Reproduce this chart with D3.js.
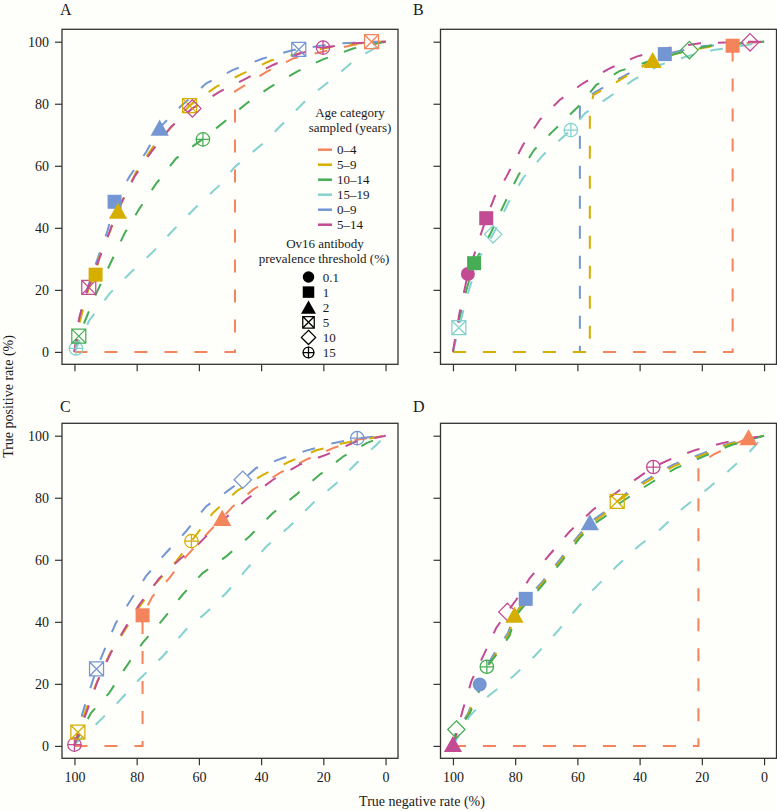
<!DOCTYPE html>
<html><head><meta charset="utf-8">
<script src="https://cdn.jsdelivr.net/npm/d3@7"></script>
<style>
html,body{margin:0;padding:0;background:#fefefa;}
svg{display:block;}
</style>
</head><body>
<svg id="chart" width="777" height="811"></svg>
<script>
// ---------- data ----------
const seriesNames = ["0–4","5–9","10–14","15–19","0–9","5–14"];
const seriesColors = ["#F4845B","#D6AE00","#47AD55","#84D2CF","#7496D2","#C24B94"];
const thresholdLabels = ["0.1","1","2","5","10","15"];
const thresholdShapes = ["circle","square","triangle","boxx","diamond","circleplus"];
const xTicks = [100,80,60,40,20,0];
const yTicks = [0,20,40,60,80,100];
const panelLetters = ["A","B","C","D"];

// curves: [true negative rate, true positive rate], one array per age category (seriesNames order)
const curvesA = [
  [[100,0],[48.4,0],[48.4,84],[38.3,90.3],[29.7,94.6],[18,97.3],[10,99],[4.5,100],[0,100]],
  [[100,0],[98.2,10],[95.6,20],[93.2,25],[92,30.6],[88.2,39.8],[86,45.5],[80.2,58],[74.8,66],[68.3,73.1],[63,79.4],[54.4,85.5],[45.8,89.8],[36.7,94],[25.4,96.8],[16.8,98.4],[8,99.5],[0,100]],
  [[100,0],[98.6,5.1],[93,18.8],[88.7,28],[83.9,38.2],[79.1,46.2],[73.7,54.3],[67.3,62.4],[58.9,68.5],[51.2,74.7],[44.7,80.1],[37.2,85.3],[28.6,90.3],[20.1,94.3],[10.4,97.8],[0,100]],
  [[100,0],[99.5,1.1],[95.2,10.2],[88.7,18.8],[81.2,26.3],[75.3,31.7],[68.3,39.2],[60.8,46.8],[53.3,53.8],[48.4,59.7],[39.4,67.2],[31.9,74.7],[24.4,82.3],[16.8,88.2],[9.3,94.6],[1.8,98.9],[0,100]],
  [[100,0],[98.6,10],[96,20],[92.7,29.6],[89.3,39.2],[87.1,48.4],[82.3,56.5],[76.9,64.5],[72.6,72.3],[66,79],[57.6,86.6],[49,90.9],[39.4,94.6],[29.7,97.3],[16.8,99.3],[8,99.8],[0,100]],
  [[100,0],[98.4,11.3],[95.7,20.4],[92,30.1],[88.7,38.7],[86.5,45],[80.7,56.5],[75.3,64.5],[68.9,72.6],[62.1,78.5],[53.3,83.9],[44.7,88.2],[36.2,92.5],[27.6,96.2],[20.1,98.1],[10.4,99.5],[0,100]]
];
const curvesB = [
  [[100,0],[10.1,0],[10.1,98.7],[5,99.6],[0,100]],
  [[100,0],[56,0],[56,77],[54.9,82.8],[46.4,87.6],[35.8,94.1],[25,97],[15,98.8],[0,100]],
  [[100,0],[98,10],[96.5,17],[93.2,28.6],[88,38],[83.4,47.9],[79,56.9],[74,65],[68,71],[59.2,79.6],[54,86],[46.5,90.5],[36,94],[24,97.3],[16.3,98.9],[0,100]],
  [[100,0],[98.1,7.8],[95.2,18.9],[91.4,30.7],[87.1,37.9],[82.3,47.9],[77.5,56],[71,63.5],[62.1,71.5],[57.6,76.9],[49.6,82.3],[42.1,87.6],[33.5,92.5],[24,95.5],[16.3,97.3],[5.6,98.9],[0,100]],
  [[100,0],[59.2,0],[59.2,79.6],[54.9,83.4],[46.4,88.2],[31.9,96],[20,98.5],[0,100]],
  [[100,0],[97.9,12.5],[95.2,25.1],[92,35],[89.3,43.1],[86.6,50],[82.8,56.5],[77.5,66.7],[72.1,74.8],[65.7,81.2],[58.2,86.6],[49.6,91.4],[41,95.2],[31.3,97.9],[20.6,99.5],[4.5,100],[0,100]]
];
const curvesC = [
  [[100,0],[78.1,0],[78.1,42.1],[74.9,48.2],[69.5,54.1],[64.1,61.1],[56.6,69.2],[52.5,73.5],[49.1,77.2],[42.6,82.6],[34,88],[25,92.5],[16.9,96],[9.3,98.7],[0,100]],
  [[100,0],[98.9,4.4],[96.3,11.7],[93.1,19.8],[88.8,29.4],[84,37],[79.7,43.9],[73.8,52.5],[67.3,59.5],[62.4,66],[55.5,75.1],[47.9,82.1],[39.4,87.4],[30.8,91.7],[22.2,95.3],[13.6,97.6],[0,100]],
  [[100,0],[99.4,1.5],[94.7,10.6],[88.8,17.1],[84,24.6],[78.1,33.2],[71.6,40.7],[65.2,48.8],[58.8,55.7],[51.2,61.1],[43.7,67.6],[36.2,75.1],[28.7,81],[21.2,87.4],[13.6,93.3],[6.1,97.6],[0,100]],
  [[100,0],[99.4,1],[93.1,6.9],[86.7,13.3],[79.2,21.4],[71.6,28.9],[64.1,37.5],[57.7,42.9],[51.2,49.3],[44.8,56.8],[38.3,64.3],[30.8,70.8],[23.3,78.3],[15.8,84.7],[9.3,91.2],[2.9,97.1],[0,100]],
  [[100,0],[99.6,1],[97.4,10.6],[94.7,19.2],[92.9,24.8],[89.9,32.1],[86.7,39.6],[81.8,47.2],[77,54.7],[70.6,62.2],[64.1,69.2],[57.7,77.2],[50.2,82.6],[45.9,85.8],[41.6,89.6],[33,92.8],[24.4,95.5],[16.9,97.6],[9.1,99.2],[0,100]],
  [[100,0],[100,0.4],[95.8,11.7],[92.6,20.8],[88.3,30],[84,37.5],[79.2,45.5],[72.7,54.1],[66.3,60],[59.8,65.4],[54.5,70.8],[44.8,79.4],[36.2,85.8],[27.6,90.7],[19,93.9],[9.3,98.2],[0,100]]
];
const curvesD = [
  [[100,0],[21.1,0],[21.1,90.7],[16.3,93.9],[10,97],[5,99.4],[0,100]],
  [[100,0],[98.7,4],[95,10.2],[91.2,19.5],[89,25],[86.3,29.6],[82,36],[80.2,42.3],[76.3,47],[71.4,52.2],[65.5,59.6],[59.6,67.2],[55.8,71.6],[51.5,74.6],[47.2,78.8],[44,81],[37.5,85.3],[29,90.2],[19.3,94],[10.8,97.4],[0,100]],
  [[100,0],[98.9,5.3],[94.8,10],[91,19],[89.1,25.5],[86.2,29.2],[81.8,35.5],[79.9,41.8],[76,46.5],[71.2,51.8],[65.3,59.2],[59.4,66.8],[55.6,71],[51.3,73.8],[47,77.8],[43.8,80],[36.7,84.6],[28.6,89.4],[19,93.5],[10.5,97],[0,100]],
  [[100,0],[98.9,2],[94.6,9.6],[88.7,16],[80.7,22.4],[73.8,28.9],[67.8,35.3],[61.4,42.9],[54.9,50.4],[47.4,57.9],[40.5,64.3],[33.5,69.7],[26,76.7],[18.5,82.6],[11,89],[4.5,95],[0,100]],
  [[100,0],[98.9,4.2],[95.1,10.6],[91.4,19.8],[89.3,25.5],[86.6,30],[82.3,36.4],[80.2,42.3],[76.6,47.4],[71.6,52.5],[65.7,60],[59.8,67.6],[56,72.1],[51.7,75.1],[47.2,78.8],[44.2,81.5],[37.8,85.8],[29.2,90.7],[19.5,94.4],[11,97.6],[0,100]],
  [[100,0],[96.8,11.7],[94.1,20.8],[89.8,30],[86.1,38],[82.5,43.2],[79.6,47.2],[75.3,54.1],[68.9,61.7],[62.4,69.2],[54.9,76.2],[47,82],[39.9,86.9],[35.6,89.9],[29.2,92.8],[21.7,95.5],[11,98.2],[0,100]]
];

// markers: [series index, threshold index, true negative rate, true positive rate]
const markersA = [[3,5,99.5,1.1],[2,3,98.6,5.1],[5,3,95.4,20.8],[1,1,93.2,24.9],[4,1,87.1,48.4],[1,2,86,45.5],[4,2,72.6,72.3],[1,3,63,79.4],[5,4,62.1,78.5],[2,5,58.7,68.5],[4,3,27.9,97.5],[5,5,20.1,98.1],[0,3,4.5,100]];
const markersB = [[3,3,98.1,7.8],[5,0,95.2,25.1],[2,1,93.2,28.6],[5,1,89.3,43.1],[3,4,87.1,37.9],[3,5,62.1,71.5],[1,2,35.8,94.1],[4,1,31.9,96],[2,4,24,97.3],[0,1,10.1,98.7],[5,4,4.5,99.8]];
const markersC = [[5,5,100,0.4],[1,3,98.9,4.4],[4,3,92.9,24.8],[0,1,78.1,42.1],[1,5,62.4,66],[0,2,52.5,73.5],[4,4,45.9,85.8],[4,5,9.1,99.2]];
const markersD = [[5,2,100,0.6],[2,4,98.9,5.3],[4,0,91.4,19.8],[2,5,89.1,25.5],[5,4,82.5,43.2],[1,2,80.2,42.3],[4,1,76.6,47.4],[4,2,56,72.1],[1,3,47.2,78.8],[5,5,35.6,89.9],[0,2,5,99.5]];

const allCurves = [curvesA, curvesB, curvesC, curvesD];
const allMarkers = [markersA, markersB, markersC, markersD];

// ---------- layout ----------
const FONT = "'Liberation Serif', 'Times New Roman', serif";
const TEXTC = "#1a1a1a";
const svg = d3.select("#chart");
const W = 336, H = 335;
const layout = [
  {left:62, top:29.3, xLab:false, yLab:true, lx:60, ly:15},
  {left:440.5, top:29.3, xLab:false, yLab:false, lx:413, ly:15},
  {left:62, top:423.3, xLab:true, yLab:true, lx:60, ly:412},
  {left:440.5, top:423.3, xLab:true, yLab:false, lx:413, ly:412}
];
const drawOrder = [0,4,1,2,3,5];
const axisColor = "#333";

function addText(parent, x, y, str, size, anchor){
  return parent.append("text").attr("x",x).attr("y",y)
    .style("font-family",FONT).style("font-size",size+"px").style("fill",TEXTC)
    .attr("text-anchor",anchor||"start").text(str);
}

function drawSymbol(g, shape, cx, cy, s, color){
  const h = s/2, sw = 1.25;
  if(shape==="circle"){
    g.append("circle").attr("cx",cx).attr("cy",cy).attr("r",h).attr("fill",color);
  } else if(shape==="square"){
    g.append("rect").attr("x",cx-h).attr("y",cy-h).attr("width",s).attr("height",s).attr("fill",color);
  } else if(shape==="triangle"){
    const w = s*1.3, t = s*1.15;
    g.append("path").attr("d",`M${cx},${cy-t/2}L${cx+w/2},${cy+t/2}L${cx-w/2},${cy+t/2}Z`).attr("fill",color);
  } else if(shape==="boxx"){
    g.append("path").attr("d",`M${cx-h},${cy-h}h${s}v${s}h${-s}ZM${cx-h},${cy-h}L${cx+h},${cy+h}M${cx+h},${cy-h}L${cx-h},${cy+h}`)
      .attr("fill","none").attr("stroke",color).attr("stroke-width",sw);
  } else if(shape==="diamond"){
    const d = s*0.62;
    g.append("path").attr("d",`M${cx},${cy-d}L${cx+d},${cy}L${cx},${cy+d}L${cx-d},${cy}Z`)
      .attr("fill","none").attr("stroke",color).attr("stroke-width",sw);
  } else {
    g.append("circle").attr("cx",cx).attr("cy",cy).attr("r",h-0.3).attr("fill","none").attr("stroke",color).attr("stroke-width",sw);
    g.append("path").attr("d",`M${cx-h},${cy}H${cx+h}M${cx},${cy-h}V${cy+h}`).attr("fill","none").attr("stroke",color).attr("stroke-width",sw);
  }
}

layout.forEach((p, i) => {
  const x = d3.scaleLinear().domain([104,-4]).range([p.left, p.left+W]);
  const y = d3.scaleLinear().domain([-4,104]).range([p.top+H, p.top]);
  const g = svg.append("g");

  // axes
  const xa = g.append("g").attr("transform",`translate(0,${p.top+H})`)
    .call(d3.axisBottom(x).tickValues(xTicks).tickSize(7).tickPadding(7)
      .tickFormat(p.xLab ? d3.format("d") : () => ""));
  const ya = g.append("g").attr("transform",`translate(${p.left},0)`)
    .call(d3.axisLeft(y).tickValues(yTicks).tickSize(7).tickPadding(6)
      .tickFormat(p.yLab ? d3.format("d") : () => ""));
  [xa, ya].forEach(a => {
    a.select(".domain").remove();
    a.selectAll("line").attr("stroke",axisColor).attr("stroke-width",1.2);
    a.selectAll("text").style("font-family",FONT).style("font-size","14px").style("fill",TEXTC);
  });

  // curves
  const line = d3.line().x(d => x(d[0])).y(d => y(d[1]));
  const curves = allCurves[i];
  drawOrder.forEach(si => {
    g.append("path").datum(curves[si]).attr("d",line)
      .attr("fill","none").attr("stroke",seriesColors[si]).attr("stroke-width",2)
      .attr("stroke-dasharray","13,17");
  });

  // markers
  allMarkers[i].forEach(m => {
    drawSymbol(g, thresholdShapes[m[1]], x(m[2]), y(m[3]), 14, seriesColors[m[0]]);
  });

  // box
  g.append("rect").attr("x",p.left).attr("y",p.top).attr("width",W).attr("height",H)
    .attr("fill","none").attr("stroke",axisColor).attr("stroke-width",1.3);

  // panel letter
  addText(svg, p.lx, p.ly, panelLetters[i], 16);
});

// ---------- legend (panel A) ----------
const lg = svg.append("g");
addText(lg, 350, 117, "Age category", 13, "middle");
addText(lg, 350, 132, "sampled (years)", 13, "middle");
seriesNames.forEach((n, k) => {
  const cy = 149.7 + k*15;
  lg.append("line").attr("x1",318).attr("x2",332).attr("y1",cy).attr("y2",cy)
    .attr("stroke",seriesColors[k]).attr("stroke-width",2.5);
  addText(lg, 337, cy+4.5, n, 13);
});
addText(lg, 325, 248, "Ov16 antibody", 13, "middle");
addText(lg, 324, 263, "prevalence threshold (%)", 13, "middle");
thresholdLabels.forEach((t, k) => {
  const cy = 277 + k*15.1;
  drawSymbol(lg, thresholdShapes[k], 308.5, cy, 11.5, "#000");
  addText(lg, 322.7, cy+4.5, t, 13);
});

// ---------- axis titles ----------
addText(svg, 0, 0, "True positive rate (%)", 14, "middle").attr("transform","translate(13,396.5) rotate(-90)");
addText(svg, 422, 806, "True negative rate (%)", 14, "middle");
</script>
</body></html>
